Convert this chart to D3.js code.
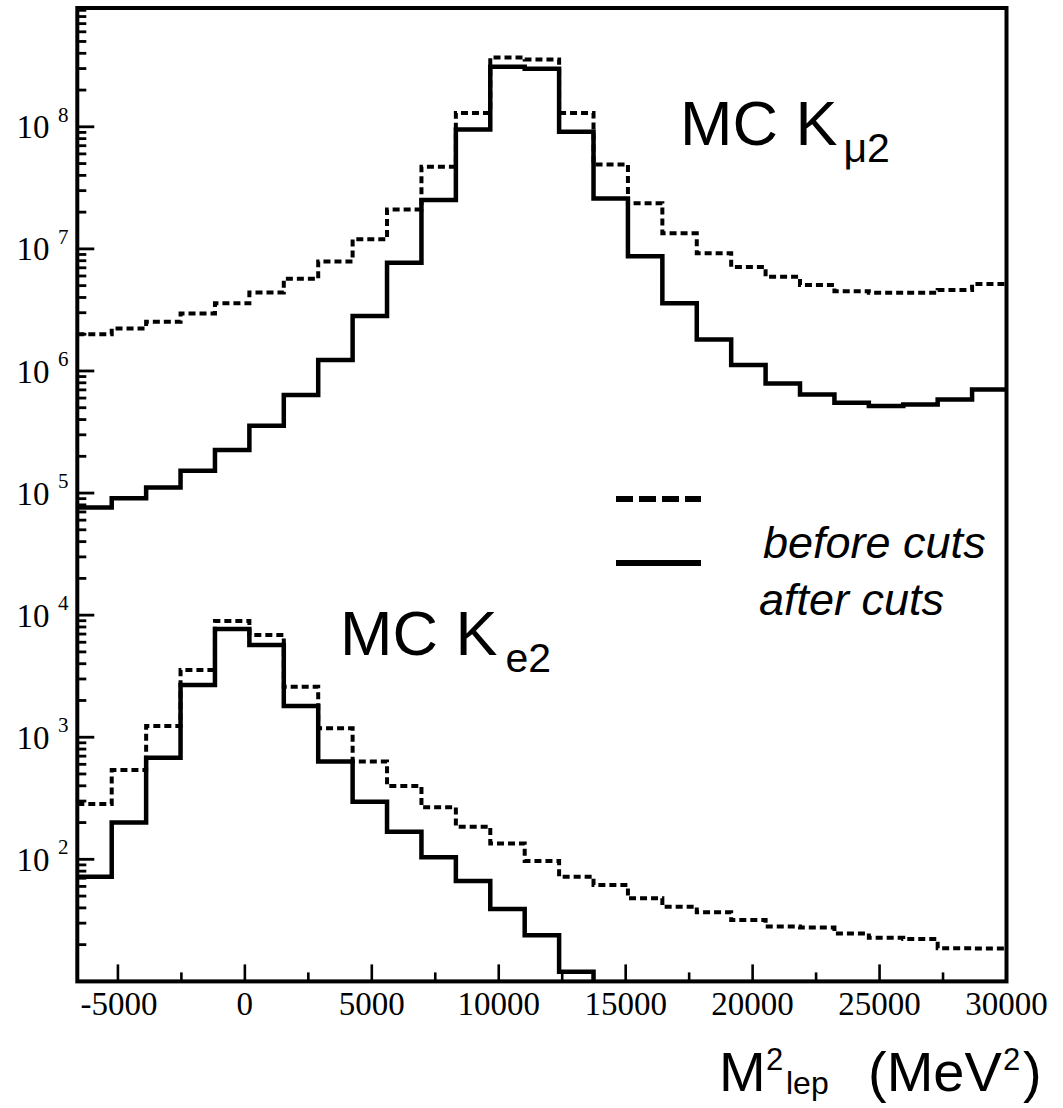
<!DOCTYPE html>
<html><head><meta charset="utf-8">
<script src="https://cdn.jsdelivr.net/npm/d3@7"></script>
<style>html,body{margin:0;padding:0;background:#fff;} svg{display:block;}</style>
</head><body>
<svg id="c" width="1063" height="1108"></svg>
<script>
// ---- data ----
const binLow = -6600, binHigh = 30000, binCount = 27;
const kmu2Before = [2.0e6, 2.23e6, 2.53e6, 2.96e6, 3.58e6, 4.4e6, 5.69e6, 7.9e6, 1.2e7, 2.1e7, 4.7e7, 1.30e8, 3.70e8, 3.56e8, 1.30e8, 4.92e7, 2.36e7, 1.34e7, 9.2e6, 7.1e6, 5.9e6, 5.06e6, 4.5e6, 4.37e6, 4.37e6, 4.6e6, 5.15e6];
const kmu2After = [7.6e4, 9.05e4, 1.11e5, 1.52e5, 2.25e5, 3.56e5, 6.35e5, 1.23e6, 2.82e6, 7.7e6, 2.51e7, 9.5e7, 3.10e8, 2.99e8, 9.1e7, 2.59e7, 8.7e6, 3.58e6, 1.81e6, 1.12e6, 7.9e5, 6.43e5, 5.5e5, 5.16e5, 5.32e5, 5.85e5, 7.06e5];
const ke2Before = [284, 538, 1236, 3548, 8950, 6870, 2594, 1183, 632, 398, 267, 185, 135, 97, 72, 61.6, 47.9, 40.9, 36.8, 31.8, 28.1, 27.6, 24.7, 22.8, 22.2, 18.7, 18.6];
const ke2After = [72, 200, 679, 2680, 7690, 5690, 1800, 632, 296, 168, 104, 66.4, 39.2, 23.9, 12.0, 0, 0, 0, 0, 0, 0, 0, 0, 0, 0, 0, 0];
const xTickValues = [-5000, 0, 5000, 10000, 15000, 20000, 25000, 30000];
const xTickLabels = ["-5000", "0", "5000", "10000", "15000", "20000", "25000", "30000"];
const xMinorTickValues = [-2500, 2500, 7500, 12500, 17500, 22500, 27500];
const yExponents = [2, 3, 4, 5, 6, 7, 8];
const yMin = 10, yMax = 9.4e8;
const legendLabels = ["before cuts", "after cuts"];

// ---- layout ----
const svg = d3.select("#c");
const L = 77.3, R = 1006.5, T = 8, B = 981.4;
const x = d3.scaleLinear().domain([binLow, binHigh]).range([L, R]);
const y = d3.scaleLog().domain([yMin, yMax]).range([B, T]);
const binW = (binHigh - binLow) / binCount;
const edges = d3.range(binCount + 1).map(i => binLow + i * binW);

// frame
svg.append("rect").attr("x", L).attr("y", T).attr("width", R - L).attr("height", B - T)
  .attr("fill", "none").attr("stroke", "#000").attr("stroke-width", 4);

// ticks as filled rects (inward)
const yMinor = [];
for (let k = 1; k <= 8; k++) for (let m = 2; m <= 9; m++) { const v = m * Math.pow(10, k); if (v < yMax) yMinor.push(v); }
const yMajor = yExponents.map(e => Math.pow(10, e));
const tg = svg.append("g").attr("fill", "#000");
tg.selectAll("rect.ymin").data(yMinor).join("rect").attr("class", "ymin")
  .attr("x", L).attr("y", d => y(d) - 1.4).attr("width", 9).attr("height", 2.8);
tg.selectAll("rect.ymaj").data(yMajor).join("rect").attr("class", "ymaj")
  .attr("x", L).attr("y", d => y(d) - 1.4).attr("width", 17).attr("height", 2.8);
tg.selectAll("rect.xmin").data(xMinorTickValues).join("rect").attr("class", "xmin")
  .attr("x", d => x(d) - 1.3).attr("y", B - 9).attr("width", 2.6).attr("height", 9);
tg.selectAll("rect.xmaj").data(xTickValues).join("rect").attr("class", "xmaj")
  .attr("x", d => x(d) - 1.3).attr("y", B - 17).attr("width", 2.6).attr("height", 17);

// y labels
const yl = svg.append("g").attr("font-family", "'Liberation Serif', 'Times New Roman', serif").attr("fill", "#000");
yExponents.forEach(e => {
  const yy = y(Math.pow(10, e));
  yl.append("text").attr("x", 16.5).attr("y", yy + 11.6).attr("font-size", 33).text("10");
  yl.append("text").attr("x", 58).attr("y", yy - 5).attr("font-size", 21).text(String(e));
});
// x labels
const xl = svg.append("g").attr("font-family", "'Liberation Serif', 'Times New Roman', serif").attr("font-size", 33).attr("text-anchor", "middle");
xTickValues.forEach((v, i) => {
  xl.append("text").attr("x", x(v) + (v < 0 ? 1 : 0)).attr("y", 1015).text(xTickLabels[i]);
});

// histograms
const stepLine = d3.line().x(d => x(d[0])).y(d => y(d[1])).curve(d3.curveStepAfter);
function stepPts(vals) {
  const pts = [];
  let last = -1;
  vals.forEach((v, i) => { if (v > 0) { pts.push([edges[i], v]); last = i; } });
  pts.push([edges[last + 1], vals[last]]);
  if (last + 1 < binCount) pts.push([edges[last + 1], yMin]);
  return pts;
}
const hist = svg.append("g").attr("fill", "none").attr("stroke", "#000");
[kmu2Before, ke2Before].forEach(s => {
  hist.append("path").attr("d", stepLine(stepPts(s))).attr("stroke-width", 4).attr("stroke-dasharray", "7,4");
});
[kmu2After, ke2After].forEach(s => {
  hist.append("path").attr("d", stepLine(stepPts(s))).attr("stroke-width", 4.5);
});

// labels
const sans = "'Liberation Sans', Arial, Helvetica, sans-serif";
const t1 = svg.append("text").attr("font-family", sans).attr("x", 680).attr("y", 145).attr("font-size", 63);
t1.append("tspan").text("MC K");
t1.append("tspan").attr("font-size", 41).attr("dx", 6).attr("dy", 17).text("μ2");
const t2 = svg.append("text").attr("font-family", sans).attr("x", 340).attr("y", 655).attr("font-size", 63);
t2.append("tspan").text("MC K");
t2.append("tspan").attr("font-size", 41).attr("dx", 8).attr("dy", 17).text("e2");

// legend
svg.append("line").attr("x1", 616).attr("x2", 701).attr("y1", 499).attr("y2", 499)
  .attr("stroke", "#000").attr("stroke-width", 6).attr("stroke-dasharray", "17,6");
svg.append("line").attr("x1", 616).attr("x2", 701).attr("y1", 563).attr("y2", 563)
  .attr("stroke", "#000").attr("stroke-width", 6);
svg.append("text").attr("font-family", sans).attr("font-style", "italic").attr("font-size", 45)
  .attr("x", 763).attr("y", 558).text(legendLabels[0]);
svg.append("text").attr("font-family", sans).attr("font-style", "italic").attr("font-size", 45)
  .attr("x", 759).attr("y", 615).text(legendLabels[1]);

// axis title
const at = svg.append("g").attr("font-family", sans).attr("fill", "#000");
at.append("text").attr("x", 719).attr("y", 1091).attr("font-size", 56).text("M");
at.append("text").attr("x", 766).attr("y", 1070).attr("font-size", 31).text("2");
at.append("text").attr("x", 786).attr("y", 1094).attr("font-size", 32).text("lep");
at.append("text").attr("x", 868).attr("y", 1091).attr("font-size", 56).text("(MeV");
at.append("text").attr("x", 1003).attr("y", 1070).attr("font-size", 31).text("2");
at.append("text").attr("x", 1023).attr("y", 1091).attr("font-size", 56).text(")");
</script>
</body></html>
